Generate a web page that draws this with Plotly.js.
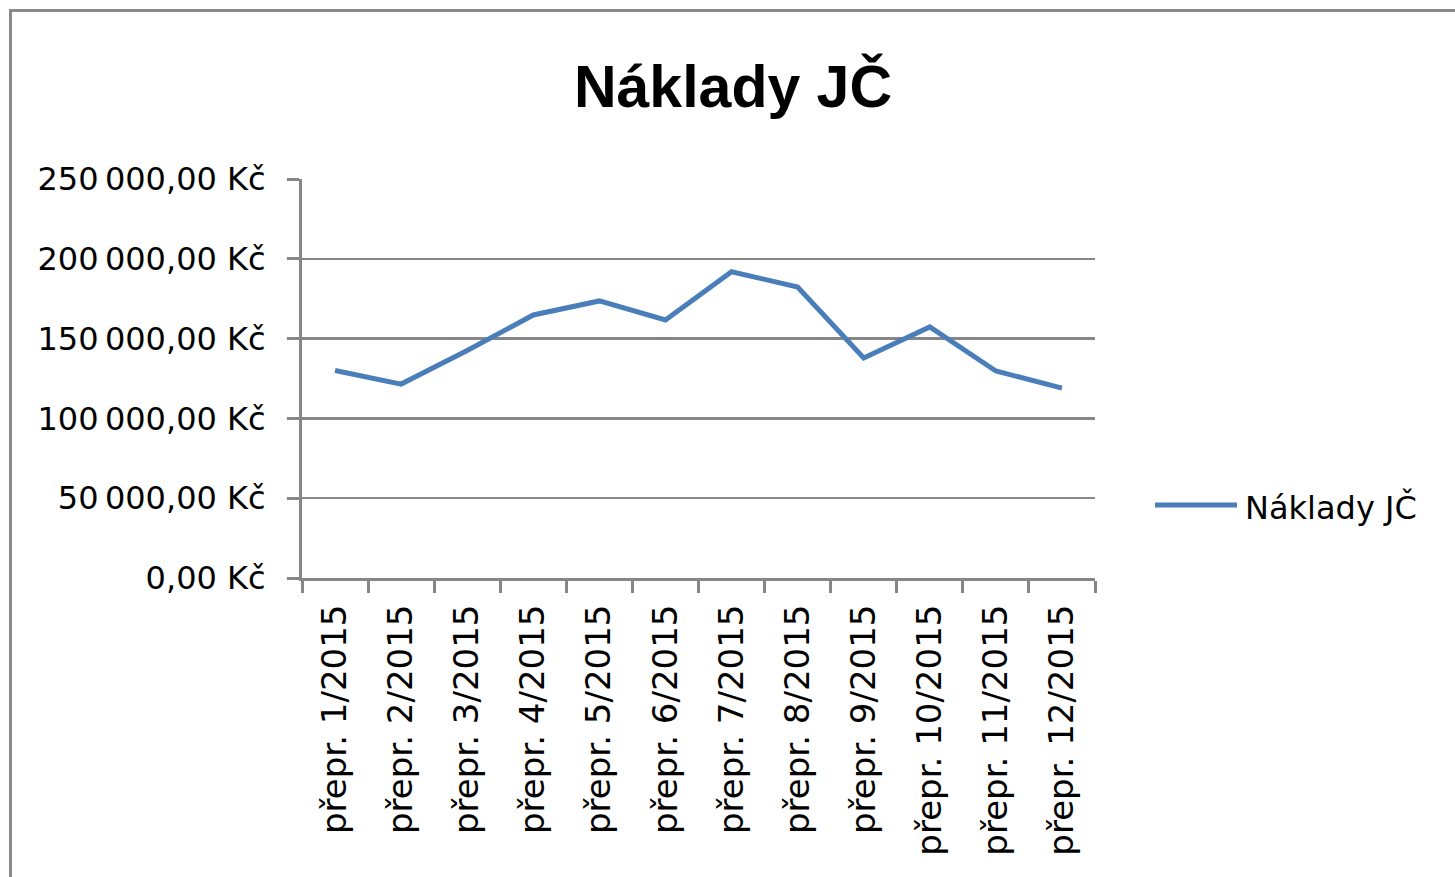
<!DOCTYPE html>
<html>
<head>
<meta charset="utf-8">
<script src="https://cdn.plot.ly/plotly-3.0.1.min.js"></script>
<style>
  html, body { margin: 0; padding: 0; background: #fff; overflow: hidden; }
  #chart { position: absolute; left: 0; top: 0; width: 1455px; height: 877px; }
  #frame { position: absolute; left: 9px; top: 9px; width: 1460px; height: 880px;
           border-left: 3px solid #8a8a8a; border-top: 3px solid #8a8a8a; pointer-events: none; }
</style>
</head>
<body>
<div id="chart"></div>
<div id="frame"></div>
<script>
const chartTitle = "Náklady JČ";
const seriesName = "Náklady JČ";
const categories = ["přepr. 1/2015", "přepr. 2/2015", "přepr. 3/2015", "přepr. 4/2015",
  "přepr. 5/2015", "přepr. 6/2015", "přepr. 7/2015", "přepr. 8/2015",
  "přepr. 9/2015", "přepr. 10/2015", "přepr. 11/2015", "přepr. 12/2015"];
const values = [130000, 121500, 142500, 164800, 173600, 161700,
  191900, 182300, 137900, 157300, 129700, 119000];
const yTickValues = [0, 50000, 100000, 150000, 200000, 250000];

function formatKc(v) {
  const parts = v.toFixed(2).split(".");
  const intPart = parts[0].replace(/\B(?=(\d{3})+(?!\d))/g, "\u2009");
  return intPart + "," + parts[1] + " Kč";
}
const yTickText = yTickValues.map(formatKc);

const lineColor = "#4a7ebb";
const gridColor = "#868686";
const font = "DejaVu Sans, sans-serif";

const trace = {
  type: "scatter",
  mode: "lines",
  x: categories,
  y: values,
  name: seriesName,
  line: { color: lineColor, width: 5 },
  showlegend: false,
  hoverinfo: "skip"
};

const layout = {
  width: 1455,
  height: 877,
  paper_bgcolor: "#fff",
  plot_bgcolor: "#fff",
  margin: { l: 302, r: 360, t: 179, b: 299, pad: 0 },
  font: { family: font, size: 32, color: "#000" },
  title: {
    text: "<b>" + chartTitle + "</b>",
    font: { family: "Liberation Sans, Arial, sans-serif", size: 59, color: "#000" },
    x: 733 / 1455, xref: "container", xanchor: "center",
    y: 1 - 86 / 877, yref: "container", yanchor: "middle"
  },
  xaxis: {
    type: "category",
    range: [-0.5, categories.length - 0.5],
    tickangle: -90,
    showline: true, linecolor: gridColor, linewidth: 3,
    ticks: "outside", tickson: "boundaries", ticklen: 12, tickwidth: 3, tickcolor: gridColor,
    showgrid: false, zeroline: false,
    tickfont: { family: font, size: 34, color: "#000" },
    ticklabelstandoff: 10,
    fixedrange: true
  },
  yaxis: {
    range: [0, 250000],
    tickmode: "array",
    tickvals: yTickValues,
    ticktext: yTickText,
    showline: true, linecolor: gridColor, linewidth: 3,
    ticks: "outside", ticklen: 12, tickwidth: 3, tickcolor: gridColor,
    showgrid: true, gridcolor: gridColor, gridwidth: 2.5,
    zeroline: false,
    tickfont: { family: font, size: 32, color: "#000" },
    ticklabelstandoff: 15,
    fixedrange: true
  },
  shapes: [{
    type: "line", xref: "paper", yref: "paper",
    x0: (1155 - 302) / 793, x1: (1237 - 302) / 793,
    y0: (578 - 505) / 399, y1: (578 - 505) / 399,
    line: { color: lineColor, width: 5 }
  }],
  annotations: [{
    xref: "paper", yref: "paper",
    x: (1243 - 302) / 793, y: (578 - 507) / 399,
    xanchor: "left", yanchor: "middle",
    text: seriesName, showarrow: false,
    font: { family: font, size: 32, color: "#000" }
  }]
};

Plotly.newPlot("chart", [trace], layout, { displayModeBar: false, staticPlot: true });
</script>
</body>
</html>
